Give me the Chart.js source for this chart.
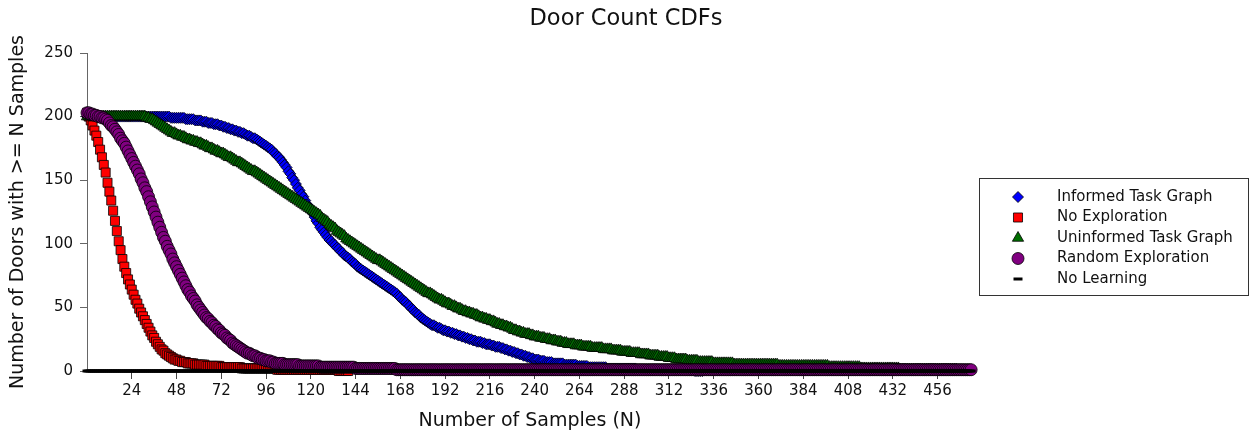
<!DOCTYPE html>
<html>
<head>
<meta charset="utf-8">
<title>Door Count CDFs</title>
<script src="https://cdn.jsdelivr.net/npm/chart.js@4.4.1/dist/chart.umd.min.js"></script>
<style>
  html, body { margin: 0; padding: 0; background: #fff; }
  #wrap { width: 1252px; height: 432px; }
</style>
</head>
<body>
<div id="wrap"><canvas id="chart" width="1252" height="432"></canvas></div>
<script>
// one value per sample count N, starting at N = 0
const xTicks = [24, 48, 72, 96, 120, 144, 168, 192, 216, 240, 264, 288, 312, 336, 360, 384, 408, 432, 456];
const yTicks = [0, 50, 100, 150, 200, 250];

const informedTaskGraph = [200,
  200,200,200,200,200,200,200,200,200,200,
  200,200,200,200,200,200,200,200,200,200,
  200,200,200,200,200,200,200,200,200,200,
  200,200,200,200,200,200,200,200,200,200,
  200,200,200,200,199,199,199,199,199,199,
  199,199,198,198,198,198,198,197,197,197,
  197,196,196,196,195,195,195,194,194,194,
  193,193,192,192,191,191,190,190,189,189,
  188,188,187,187,186,185,185,184,183,183,
  182,181,180,179,178,177,176,175,174,172,
  171,169,168,166,164,162,160,157,155,152,
  150,147,144,142,139,137,134,131,129,126,
  124,121,118,116,113,111,109,107,105,103,
  102,100,99,97,96,94,93,91,90,89,
  88,86,85,84,82,81,80,79,78,77,
  76,75,74,73,72,71,70,69,68,67,
  66,65,64,63,62,61,59,58,56,55,
  54,52,51,49,48,46,45,44,42,41,
  40,39,38,37,36,36,35,34,34,33,
  32,32,31,31,30,30,29,29,28,28,
  27,27,26,26,25,25,24,24,23,23,
  23,22,22,21,21,21,20,20,19,19,
  19,18,18,17,17,16,16,15,15,14,
  14,13,13,12,12,11,11,10,10,9,
  9,9,8,8,8,7,7,7,7,6,
  6,6,6,6,6,5,5,5,5,5,
  5,5,4,4,4,4,4,4,3,3,
  3,3,3,3,3,3,3,3,2,2,
  2,2,2,2,2,2,2,2,2,2,
  2,2,2,2,1,1,1,1,1,1,
  1,1,1,1,1,1,1,1,1,1,
  1,1,1,1,1,1,1,1,1,1,
  1,1,1,1,1,0,0,0,0,0];

const noExploration = [203,
  200,197,193,189,185,180,174,168,162,156,
  148,141,134,126,118,110,102,95,88,82,
  77,72,68,64,60,56,53,49,46,43,
  40,37,34,31,28,26,23,21,19,17,
  16,14,13,12,11,10,9,9,8,8,
  7,7,7,6,6,6,6,5,5,5,
  5,5,5,4,4,4,4,4,4,4,
  4,3,3,3,3,3,3,3,3,3,
  3,3,2,2,2,2,2,2,2,2,
  2,2,2,2,2,2,2,2,2,2,
  2,1,1,1,1,1,1,1,1,1,
  1,1,1,1,1,1,1,1,1,1,
  1,1,1,1,1,1,1,1,1,1,
  1,1,1,1,0,0,0,0,0,0];

const uninformedTaskGraph = [200,
  200,200,200,200,200,200,200,200,200,200,
  200,200,200,200,200,200,200,200,200,200,
  200,200,200,200,200,200,200,200,200,200,
  200,199,199,198,198,197,196,195,194,193,
  192,191,190,189,188,187,187,186,185,185,
  184,184,183,182,182,181,181,180,180,179,
  179,178,177,177,176,175,175,174,173,173,
  172,171,171,170,169,168,168,167,166,165,
  164,164,163,162,161,160,159,158,157,157,
  156,155,154,153,152,151,150,149,148,147,
  146,145,144,143,142,141,140,139,138,137,
  136,135,134,133,132,131,130,129,128,127,
  126,125,124,123,122,120,119,118,117,115,
  114,113,112,110,109,108,107,106,104,103,
  102,101,100,99,98,97,96,95,94,93,
  92,91,90,89,88,87,87,86,85,84,
  83,82,81,80,79,78,77,76,75,74,
  73,72,71,70,69,68,67,66,65,64,
  63,62,61,61,60,59,58,57,56,56,
  55,54,53,53,52,51,51,50,49,49,
  48,47,47,46,46,45,45,44,44,43,
  42,42,41,41,40,40,39,39,38,37,
  37,36,36,35,35,34,34,33,32,32,
  31,31,30,30,29,29,29,28,28,27,
  27,27,26,26,26,25,25,25,24,24,
  24,23,23,23,22,22,22,21,21,21,
  21,20,20,20,20,19,19,19,19,19,
  18,18,18,18,18,18,17,17,17,17,
  17,16,16,16,16,16,15,15,15,15,
  15,14,14,14,14,14,13,13,13,13,
  13,12,12,12,12,12,11,11,11,11,
  11,10,10,10,10,9,9,9,9,9,
  9,8,8,8,8,8,8,7,7,7,
  7,7,7,7,7,6,6,6,6,6,
  6,6,6,6,6,6,5,5,5,5,
  5,5,5,5,5,5,5,5,5,5,
  5,5,5,5,5,5,5,5,5,5,
  4,4,4,4,4,4,4,4,4,4,
  4,4,4,4,4,4,4,4,4,4,
  4,4,4,4,4,4,4,3,3,3,
  3,3,3,3,3,3,3,3,3,3,
  3,3,3,3,2,2,2,2,2,2,
  2,2,2,2,2,2,2,2,2,2,
  2,2,2,2,2,1,1,1,1,1,
  1,1,1,1,1,1,1,1,1,1,
  1,1,1,1,1,1,1,1,1,1,
  1,1,1,1,1,1,0,0,0,0];

const randomExploration = [203,
  203,202,202,201,201,200,200,199,199,198,
  197,195,193,192,190,188,186,183,181,179,
  176,173,170,167,164,161,158,155,151,148,
  144,141,137,133,129,125,121,117,113,109,
  105,102,98,95,92,88,85,82,79,76,
  73,70,67,64,62,59,57,55,52,50,
  48,46,44,42,41,39,38,36,35,33,
  32,30,29,28,26,25,24,22,21,20,
  19,18,17,16,15,14,14,13,12,12,
  11,10,10,9,9,8,8,8,7,7,
  6,6,6,6,6,5,5,5,5,5,
  5,5,5,4,4,4,4,4,4,4,
  4,4,4,4,3,3,3,3,3,3,
  3,3,3,3,3,3,3,3,3,3,
  3,3,3,2,2,2,2,2,2,2,
  2,2,2,2,2,2,2,2,2,2,
  2,2,2,2,2,1,1,1,1,1,
  1,1,1,1,1,1,1,1,1,1,
  1,1,1,1,1,1,1,1,1,1,
  1,1,1,1,1,1,1,1,1,1,
  1,1,1,1,1,1,1,1,1,1,
  1,1,1,1,1,1,1,1,1,1,
  1,1,1,1,1,1,1,1,1,1,
  1,1,1,1,1,1,1,1,1,1,
  1,1,1,1,1,1,1,1,1,1,
  1,1,1,1,1,1,1,1,1,1,
  1,1,1,1,1,1,1,1,1,1,
  1,1,1,1,1,1,1,1,1,1,
  1,1,1,1,1,1,1,1,1,1,
  1,1,1,1,1,1,1,1,1,1,
  1,1,1,1,1,1,1,1,1,1,
  1,1,1,1,1,1,1,1,1,1,
  1,1,1,1,1,1,1,1,1,1,
  1,1,1,1,1,1,1,1,1,1,
  1,1,1,1,1,1,1,1,1,1,
  1,1,1,1,1,1,1,1,1,1,
  1,1,1,1,1,1,1,1,1,1,
  1,1,1,1,1,1,1,1,1,1,
  1,1,1,1,1,1,1,1,1,1,
  1,1,1,1,1,1,1,1,1,1,
  1,1,1,1,1,1,1,1,1,1,
  1,1,1,1,1,1,1,1,1,1,
  1,1,1,1,1,1,1,1,1,1,
  1,1,1,1,1,1,1,1,1,1,
  1,1,1,1,1,1,1,1,1,1,
  1,1,1,1,1,1,1,1,1,1,
  1,1,1,1,1,1,1,1,1,1,
  1,1,1,1];

const noLearning = [
  0,0,0,0,0,0,0,0,0,0,0,0,0,0,0,0,0,0,0,0,0,0,0,0,0,
  0,0,0,0,0,0,0,0,0,0,0,0,0,0,0,0,0,0,0,0,0,0,0,0,0,
  0,0,0,0,0,0,0,0,0,0,0,0,0,0,0,0,0,0,0,0,0,0,0,0,0,
  0,0,0,0,0,0,0,0,0,0,0,0,0,0,0,0,0,0,0,0,0,0,0,0,0,
  0,0,0,0,0,0,0,0,0,0,0,0,0,0,0,0,0,0,0,0,0,0,0,0,0,
  0,0,0,0,0,0,0,0,0,0,0,0,0,0,0,0,0,0,0,0,0,0,0,0,0,
  0,0,0,0,0,0,0,0,0,0,0,0,0,0,0,0,0,0,0,0,0,0,0,0,0,
  0,0,0,0,0,0,0,0,0,0,0,0,0,0,0,0,0,0,0,0,0,0,0,0,0,
  0,0,0,0,0,0,0,0,0,0,0,0,0,0,0,0,0,0,0,0,0,0,0,0,0,
  0,0,0,0,0,0,0,0,0,0,0,0,0,0,0,0,0,0,0,0,0,0,0,0,0,
  0,0,0,0,0,0,0,0,0,0,0,0,0,0,0,0,0,0,0,0,0,0,0,0,0,
  0,0,0,0,0,0,0,0,0,0,0,0,0,0,0,0,0,0,0,0,0,0,0,0,0,
  0,0,0,0,0,0,0,0,0,0,0,0,0,0,0,0,0,0,0,0,0,0,0,0,0,
  0,0,0,0,0,0,0,0,0,0,0,0,0,0,0,0,0,0,0,0,0,0,0,0,0,
  0,0,0,0,0,0,0,0,0,0,0,0,0,0,0,0,0,0,0,0,0,0,0,0,0,
  0,0,0,0,0,0,0,0,0,0,0,0,0,0,0,0,0,0,0,0,0,0,0,0,0,
  0,0,0,0,0,0,0,0,0,0,0,0,0,0,0,0,0,0,0,0,0,0,0,0,0,
  0,0,0,0,0,0,0,0,0,0,0,0,0,0,0,0,0,0,0,0,0,0,0,0,0,
  0,0,0,0,0,0,0,0,0,0,0,0,0,0,0,0,0,0,0,0,0,0,0,0,0];

const FONT = "'DejaVu Sans', 'Liberation Sans', sans-serif";

// legend order = plotting order; lower "order" is drawn on top
const series = [
  { label: "Informed Task Graph", values: informedTaskGraph, color: "#0000ff", style: "rectRot", radius: 5.5, order: 5 },
  { label: "No Exploration", values: noExploration, color: "#ff0000", style: "rect", radius: 6.4, order: 4 },
  { label: "Uninformed Task Graph", values: uninformedTaskGraph, color: "#006f00", style: "triangle", radius: 6.5, order: 3 },
  { label: "Random Exploration", values: randomExploration, color: "#800080", style: "circle", radius: 6, order: 2 },
  { label: "No Learning", values: noLearning, color: "#000000", style: "line", radius: 4.5, order: 1 },
];

function toPoints(values) {
  return values.map((v, n) => ({ x: n, y: v }));
}

function edgeWidth(s) {
  return s.style === "line" ? 3 : 0.8;
}

function drawMarker(ctx, s, x, y) {
  ctx.save();
  ctx.fillStyle = s.color;
  ctx.strokeStyle = "#000";
  ctx.lineWidth = edgeWidth(s);
  if (Chart.helpers && Chart.helpers.drawPoint) {
    Chart.helpers.drawPoint(ctx, { pointStyle: s.style, rotation: 0, radius: s.radius, borderWidth: edgeWidth(s) }, x, y);
  } else {
    ctx.beginPath();
    ctx.arc(x, y, s.radius, 0, Math.PI * 2);
    ctx.fill();
    ctx.stroke();
  }
  ctx.restore();
}

const boxLegend = {
  id: "boxLegend",
  afterDraw(chart) {
    const ctx = chart.ctx;
    ctx.save();
    ctx.strokeStyle = "#333";
    ctx.lineWidth = 1;
    ctx.strokeRect(979.5, 178.5, 269, 117);
    ctx.font = "15px " + FONT;
    ctx.fillStyle = "#111";
    ctx.textBaseline = "middle";
    ctx.textAlign = "left";
    series.forEach((s, i) => {
      const y = 197 + i * 20.5;
      drawMarker(ctx, s, 1018, y);
      ctx.fillStyle = "#111";
      ctx.fillText(s.label, 1057, y);
    });
    ctx.restore();
  },
};

const datasets = series.map((s) => ({
  label: s.label,
  data: toPoints(s.values),
  showLine: false,
  pointStyle: s.style,
  pointRadius: s.radius,
  pointBackgroundColor: s.color,
  pointBorderColor: "#000",
  pointBorderWidth: edgeWidth(s),
  clip: false,
  order: s.order,
}));

new Chart(document.getElementById("chart"), {
  type: "scatter",
  data: { datasets },
  plugins: [boxLegend],
  options: {
    responsive: false,
    devicePixelRatio: 1,
    animation: false,
    events: [],
    layout: { padding: 0 },
    plugins: {
      legend: { display: false },
      tooltip: { enabled: false },
      title: {
        display: true,
        text: "Door Count CDFs",
        color: "#111",
        font: { family: FONT, size: 22.5, weight: "normal" },
        padding: { top: 6, bottom: 20 },
      },
    },
    scales: {
      x: {
        type: "linear",
        min: 0,
        max: 475,
        afterBuildTicks: (s) => { s.ticks = xTicks.map((v) => ({ value: v })); },
        afterFit: (s) => { s.height = 61; },
        grid: { drawOnChartArea: false, drawTicks: true, tickLength: 8, color: "#444" },
        border: { display: true, color: "#444" },
        ticks: { font: { family: FONT, size: 15 }, color: "#111", padding: 3, maxRotation: 0, autoSkip: false },
        title: { display: true, text: "Number of Samples (N)", color: "#111", font: { family: FONT, size: 19 }, padding: { top: 3, bottom: 0 } },
      },
      y: {
        type: "linear",
        min: 0,
        max: 250,
        afterBuildTicks: (s) => { s.ticks = yTicks.map((v) => ({ value: v })); },
        afterFit: (s) => { s.width = 87; },
        grid: { drawOnChartArea: false, drawTicks: true, tickLength: 7, color: "#666" },
        border: { display: true, color: "#666" },
        ticks: { font: { family: FONT, size: 15 }, color: "#111", padding: 7 },
        title: { display: true, text: "Number of Doors with >= N Samples", color: "#111", font: { family: FONT, size: 19 }, padding: { top: 7, bottom: 0 } },
      },
      // empty scale that only keeps room for the legend on the right
      room: {
        type: "linear",
        position: "right",
        display: true,
        afterFit: (s) => { s.width = 279; },
        grid: { display: false },
        ticks: { display: false },
        border: { display: false },
      },
    },
  },
});
</script>
</body>
</html>
